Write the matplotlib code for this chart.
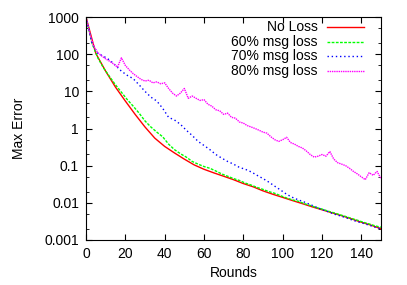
import matplotlib
matplotlib.use('Agg')
import matplotlib.pyplot as plt
import numpy as np

plt.rcParams['font.family'] = ['Liberation Sans', 'DejaVu Sans']
plt.rcParams['font.size'] = 10

# Data (Max Error vs Rounds)
rounds_noloss = [0, 5, 10, 15, 20, 25, 30, 35, 40, 45, 50, 55, 60, 65, 70, 75,
                 80, 85, 90, 95, 100, 105, 110, 115, 120, 125, 130, 135, 140, 145, 150]
err_noloss = [1000, 105, 35, 13, 5.5, 2.4, 1.1, 0.55, 0.33, 0.22, 0.15, 0.105, 0.08,
              0.064, 0.052, 0.042, 0.033, 0.027, 0.021, 0.017, 0.014, 0.0115, 0.0095,
              0.0078, 0.0065, 0.0054, 0.0045, 0.0037, 0.003, 0.0025, 0.002]

rounds_60 = list(range(0, 151, 3))
err_60 = [1000, 200, 80, 42, 25, 15, 9.5, 6, 4, 2.6, 1.6, 1.1, 0.8, 0.6, 0.38, 0.27,
          0.21, 0.17, 0.13, 0.11, 0.095, 0.085, 0.072, 0.06, 0.052, 0.045, 0.04, 0.034,
          0.03, 0.026, 0.023, 0.02, 0.018, 0.0155, 0.0135, 0.012, 0.011, 0.0095, 0.0085,
          0.0075, 0.0068, 0.006, 0.0054, 0.0048, 0.0043, 0.0038, 0.0034, 0.003, 0.0027,
          0.0024, 0.0022]

rounds_70 = list(range(0, 151, 3))
err_70 = [1000, 200, 105, 88, 70, 50, 35, 27, 22, 15, 10, 7, 5.5, 3.5, 2.0, 1.7, 1.3,
          0.9, 0.65, 0.45, 0.35, 0.27, 0.2, 0.16, 0.13, 0.11, 0.09, 0.08, 0.068, 0.055,
          0.045, 0.036, 0.028, 0.022, 0.017, 0.014, 0.012, 0.0105, 0.009, 0.0077, 0.0066,
          0.0058, 0.005, 0.0045, 0.004, 0.0035, 0.0031, 0.0028, 0.0025, 0.0022, 0.002]

rounds_80 = list(range(0, 151, 2))
err_80 = [1000, 350, 160, 110, 90, 75, 65, 55, 45, 80, 50, 38, 30, 25, 21, 19, 20, 17,
          18, 16, 17, 12, 9, 7.5, 9, 12, 6.5, 7.5, 6.5, 5.7, 6, 4.5, 4, 3.2, 3, 2.4, 2.6,
          2.0, 1.9, 1.5, 1.4, 1.2, 1.1, 1.0, 0.9, 0.8, 0.75, 0.6, 0.5, 0.45, 0.5, 0.58,
          0.42, 0.38, 0.33, 0.3, 0.25, 0.2, 0.17, 0.18, 0.2, 0.18, 0.24, 0.15, 0.12, 0.11,
          0.1, 0.085, 0.07, 0.06, 0.05, 0.042, 0.065, 0.055, 0.07, 0.045]

labels = ['No Loss', '60% msg loss', '70% msg loss', '80% msg loss']
colors = ['#ff0000', '#00ff00', '#0000ff', '#ff00ff']
styles = ['-', (0, (2, 1)), (0, (1, 2)), (0, (1, 0.6))]

fig = plt.figure(figsize=(4.07, 2.85), dpi=100)
ax = fig.add_axes([0.2113, 0.158, 0.7248, 0.782])

series = [(rounds_noloss, err_noloss), (rounds_60, err_60),
          (rounds_70, err_70), (rounds_80, err_80)]
for (x, y), c, ls in zip(series, colors, styles):
    ax.plot(x, y, color=c, linestyle=ls, lw=1)

ax.set_yscale('log')
ax.set_xlim(0, 150)
ax.set_ylim(0.001, 1000)
ax.set_xticks(np.arange(0, 141, 20))
ax.set_yticks([0.001, 0.01, 0.1, 1, 10, 100, 1000])
ax.set_yticklabels(['0.001', '0.01', '0.1', '1', '10', '100', '1000'])
ax.yaxis.set_minor_locator(matplotlib.ticker.LogLocator(base=10, subs=(2, 5)))
ax.yaxis.set_minor_formatter(matplotlib.ticker.NullFormatter())
ax.tick_params(which='both', direction='in', top=True, right=True)
ax.tick_params(which='major', length=4, pad=5)
ax.tick_params(which='minor', length=2)
ax.set_xlabel('Rounds', labelpad=4)
ax.set_ylabel('Max Error', labelpad=13)

# gnuplot-style legend: text right-aligned, sample to the right
for i, (lab, c, ls) in enumerate(zip(labels, colors, styles)):
    yy = 0.954 - i * 0.065
    ax.text(0.786, yy, lab, transform=ax.transAxes, ha='right', va='center')
    ax.plot([0.817, 0.942], [yy, yy], transform=ax.transAxes, color=c,
            linestyle=ls, lw=1)

fig.savefig('out.png', dpi=100)
